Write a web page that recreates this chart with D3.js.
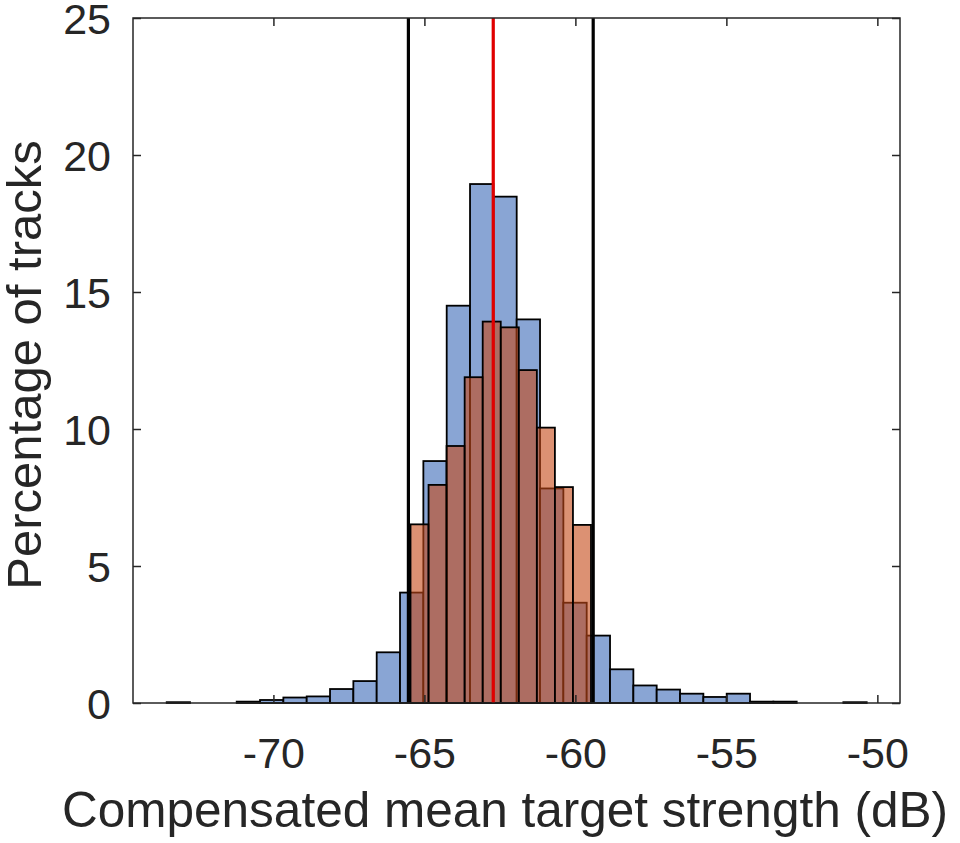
<!DOCTYPE html>
<html>
<head>
<meta charset="utf-8">
<script src="https://cdn.jsdelivr.net/npm/d3@7"></script>
<style>
  html, body { margin: 0; padding: 0; background: #ffffff; }
  svg { display: block; }
  text { font-family: "Liberation Sans", Arial, Helvetica, sans-serif; fill: #262626; }
</style>
</head>
<body>
<svg id="chart" width="960" height="843"></svg>
<script>
// ---- data ----
const blueBinStart = -73.534;
const blueBinWidth = 0.7727;
const blueValues = [0.03, 0, 0, 0.05, 0.11, 0.2, 0.24, 0.51, 0.8, 1.85,
                    4.03, 8.83, 14.5, 18.94, 18.48, 14.0, 7.83, 3.66, 2.46, 1.23,
                    0.64, 0.49, 0.34, 0.22, 0.34, 0.05, 0.05, 0, 0, 0.03];
const orangeBinStart = -65.46;
const orangeBinWidth = 0.5977;
const orangeValues = [6.52, 7.96, 9.38, 11.89, 13.92, 13.71, 12.15, 10.05, 7.88, 6.5];
const boundLines = [-65.53, -59.41];
const meanLine = -62.72;
const xTicks = [-70, -65, -60, -55, -50];
const yTicks = [0, 5, 10, 15, 20, 25];
const xLabel = "Compensated mean target strength (dB)";
const yLabel = "Percentage of tracks";

// ---- layout ----
const L = 133, R = 900, T = 18, B = 703;
const svg = d3.select("#chart");
const x = d3.scaleLinear().domain([-74.65, -49.25]).range([L, R]);
const y = d3.scaleLinear().domain([0, 25]).range([B, T]);

const blueBins = blueValues.map((v, i) => ({x0: blueBinStart + i * blueBinWidth, x1: blueBinStart + (i + 1) * blueBinWidth, v}));
const orangeBins = orangeValues.map((v, i) => ({x0: orangeBinStart + i * orangeBinWidth, x1: orangeBinStart + (i + 1) * orangeBinWidth, v}));

svg.append("g").selectAll("rect").data(blueBins).join("rect")
  .attr("x", d => x(d.x0)).attr("width", d => x(d.x1) - x(d.x0))
  .attr("y", d => y(d.v)).attr("height", d => y(0) - y(d.v))
  .attr("fill", "rgb(137,165,212)")
  .attr("stroke", "#000").attr("stroke-width", 1.8);

svg.append("g").selectAll("rect").data(orangeBins).join("rect")
  .attr("x", d => x(d.x0)).attr("width", d => x(d.x1) - x(d.x0))
  .attr("y", d => y(d.v)).attr("height", d => y(0) - y(d.v))
  .attr("fill", "rgb(197,72,22)").attr("fill-opacity", 0.6)
  .attr("stroke", "#000").attr("stroke-width", 1.8);

svg.append("g").selectAll("line").data(boundLines).join("line")
  .attr("x1", d => x(d)).attr("x2", d => x(d))
  .attr("y1", y(25)).attr("y2", y(0))
  .attr("stroke", "#000").attr("stroke-width", 3.2);

svg.append("line")
  .attr("x1", x(meanLine)).attr("x2", x(meanLine))
  .attr("y1", y(25)).attr("y2", y(0))
  .attr("stroke", "#e00000").attr("stroke-width", 3.2);

// ---- axes ----
const axisColor = "#262626";
const tickLen = 8;
const fontTick = 43;
const fmt = d => String(d);

const xAxisB = d3.axisBottom(x).tickValues(xTicks).tickSize(-tickLen).tickPadding(34).tickFormat(fmt);
const gxb = svg.append("g").attr("transform", `translate(0,${B})`).call(xAxisB);
const xAxisT = d3.axisTop(x).tickValues(xTicks).tickSize(-tickLen).tickFormat("");
const gxt = svg.append("g").attr("transform", `translate(0,${T})`).call(xAxisT);
const yAxisL = d3.axisLeft(y).tickValues(yTicks).tickSize(-tickLen).tickPadding(22).tickFormat(fmt);
const gyl = svg.append("g").attr("transform", `translate(${L},0)`).call(yAxisL);
const yAxisR = d3.axisRight(y).tickValues(yTicks).tickSize(-tickLen).tickFormat("");
const gyr = svg.append("g").attr("transform", `translate(${R},0)`).call(yAxisR);

[gxb, gxt, gyl, gyr].forEach(g => {
  g.select(".domain").remove();
  g.selectAll(".tick line").attr("stroke", axisColor).attr("stroke-width", 1.5);
  g.selectAll("text").attr("fill", axisColor).style("font-size", fontTick + "px")
    .style("font-family", '"Liberation Sans", Arial, Helvetica, sans-serif');
});
gxb.selectAll("text").attr("dy", "0.71em");
gyl.selectAll("text").attr("dy", "0.37em");

svg.append("rect").attr("x", L).attr("y", T).attr("width", R - L).attr("height", B - T)
  .attr("fill", "none").attr("stroke", axisColor).attr("stroke-width", 1.5);

svg.append("text").attr("x", 505).attr("y", 827)
  .attr("text-anchor", "middle").style("font-size", "49.5px").text(xLabel);

svg.append("text").attr("transform", `translate(41,365) rotate(-90)`)
  .attr("text-anchor", "middle").style("font-size", "49px").text(yLabel);
</script>
</body>
</html>
